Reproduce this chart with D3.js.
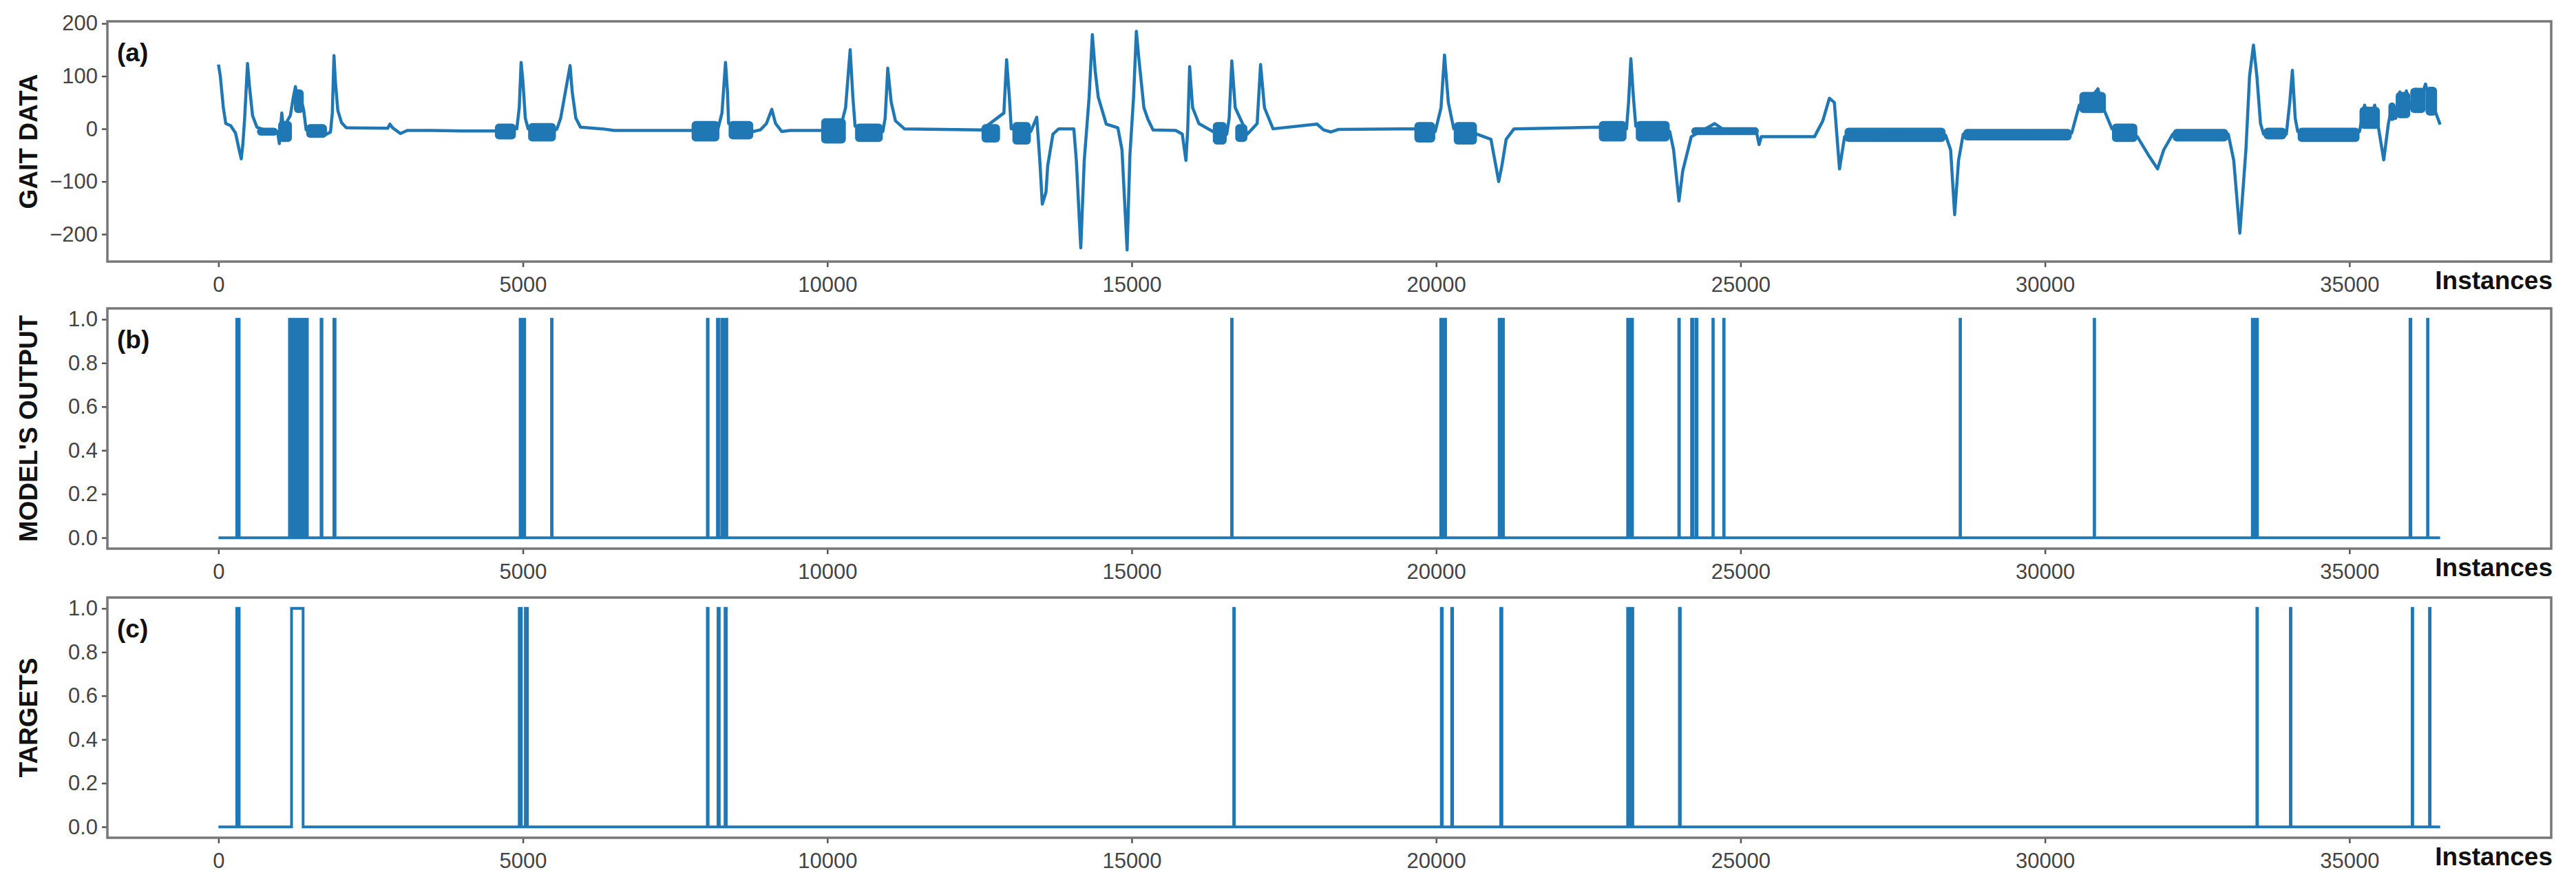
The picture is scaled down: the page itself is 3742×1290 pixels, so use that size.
<!DOCTYPE html>
<html>
<head>
<meta charset="utf-8">
<script src="https://cdn.jsdelivr.net/npm/d3@7/dist/d3.min.js"></script>
<style>
body { margin: 0; background: #fff; }
svg { display: block; font-family: "Liberation Sans", Arial, sans-serif; }
</style>
</head>
<body>
<div id="chart"></div>
<script>
// ---- data ----
var nSamples = 36490;

// gait signal, traced centre line (instance, value)
var gaitX = [0, 30, 80, 120, 200, 280, 340, 374, 400, 430, 477, 510, 560, 632, 800, 970, 1000, 1040, 1080, 1130, 1180, 1230, 1264, 1300, 1350, 1400, 1440, 1600, 1780, 1840, 1870, 1897, 1920, 1960, 2020, 2098,
    2780, 2816, 2860, 2988, 3100, 3500, 4000, 4540, 4900, 4940, 4971, 5000, 5040, 5086, 5500, 5560, 5620, 5775, 5810, 5870, 5947,
    6300, 6500, 7000, 7771, 8200, 8270, 8328, 8360, 8379, 8784, 8900, 9000, 9088, 9150, 9250, 9392, 9899, 10200, 10300, 10375, 10420, 10456, 10912, 10950, 10993, 11050, 11120, 11266,
    12533, 12900, 12945, 12990, 13021, 13343, 13440, 13490, 13531, 13592, 13620, 13706, 13800, 14049, 14090, 14163, 14220, 14300, 14353, 14400, 14450, 14581, 14772, 14840, 14924, 14970, 15030, 15076, 15120, 15200, 15266,
    15350, 15723, 15830, 15890, 15920, 15951, 16000, 16103, 16332, 16560, 16600, 16644, 16700, 16900, 17060, 17116, 17180, 17321, 18044, 18150, 18272, 18400,
    19642, 19985, 20080, 20137, 20200, 20289, 20670, 20900, 20980, 21027, 21080, 21150, 21279, 22672, 23127, 23160, 23198, 23240, 23279, 23836, 23900, 23988, 24050, 24190, 24575, 24700, 25000, 25250, 25304, 25340, 25506,
    26214, 26350, 26459, 26540, 26625, 26708, 28367, 28450, 28516, 28580, 28657, 30439, 30564, 30700, 30870, 30937, 31100, 31517, 31700, 31849, 31950, 32098, 33010, 33100, 33200, 33300, 33360, 33424, 33480, 33540, 33590,
    33964, 34020, 34063, 34110, 34150, 35166, 35249, 35330, 35415, 35480, 35564, 35640, 35705, 35760, 35829, 35880, 35935, 36000, 36090, 36150, 36250, 36330, 36420, 36490];
var gaitY = [122, 100, 40, 10, 6, -8, -40, -57, -30, 20, 124, 80, 25, 3, -4, -5, -28, 30, -15, 15, 25, 60, 80, 55, 60, 35, -2, -5, -10, -6, 30, 139, 90, 35, 12, 2,
    1, 9, 2, -9, -3, -3, -4, -4, 0, 40, 126, 90, 20, 0, -5, 0, 20, 120, 70, 20, 3,
    0, -3, -3, -3, -2, 30, 126, 70, 10, -5, -2, 10, 37, 10, -5, -3, -3, -5, 40, 150, 60, 5, -5, 20, 115, 50, 15, 0,
    -2, 30, 131, 60, 0, -5, 22, -60, -143, -120, -70, -10, 0, 0, -60, -226, -60, 60, 179, 110, 60, 9, 2, -40, -230, -50, 60, 185, 130, 40, 18,
    -2, -3, -10, -60, 0, 118, 40, 10, -5, -10, 20, 129, 40, -10, 10, 122, 40, 0, 9, -2, -6, -1,
    0, -5, 40, 140, 50, 0, -10, -20, -70, -100, -70, -20, 0, 3, 0, 50, 133, 60, 5, -5, -40, -137, -80, -15, 10, 0, -5, 0, -30, -15, -15,
    -15, 15, 58, 50, -76, -15, -12, -40, -163, -60, -10, -8, 45, 50, 76, 45, 0, -15, -50, -76, -40, -10, -10, -60, -198, -40, 100, 159, 100, 10, -10,
    -10, 50, 111, 20, -5, -5, 45, 10, 45, 0, -59, 10, 45, 20, 70, 30, 72, 40, 75, 50, 85, 45, 30, 8];

// stretches where the gait trace is a dense noisy band
var noiseStart = [632, 980, 1240, 1440, 4540, 5086, 7771, 8379, 9899, 10456, 12533, 13040, 16332, 16700, 19642, 20289, 22672, 23279, 24190, 26708, 28657, 30564, 31100, 32098, 33590, 34150, 35166, 35640, 35760, 36000, 36250];
var noiseEnd = [977, 1207, 1400, 1782, 4885, 5542, 8227, 8784, 10304, 10912, 12837, 13343, 16560, 16900, 19985, 20670, 23127, 23836, 25300, 28367, 30439, 31000, 31517, 33010, 33964, 35166, 35500, 35760, 36000, 36250, 36440];
var noiseLow = [-13, -25, 30, -17, -20, -24, -24, -20, -28, -25, -26, -30, -30, -25, -26, -30, -24, -24, -12, -25, -22, 30, -25, -24, -20, -25, 0, 15, 20, 30, 25];
var noiseHigh = [2, 15, 75, 9, 10, 11, 15, 15, 20, 10, 9, 13, 13, 9, 13, 13, 15, 15, 3, 2, 0, 70, 10, 0, 2, 2, 42, 50, 70, 78, 80];

// model output: intervals where the output is 1
var modelStart = [300, 1166, 1205, 1240, 1275, 1315, 1350, 1390, 1425, 1685, 1895, 4955, 5010, 5470, 8030, 8195, 8265, 8330, 16640, 20075, 20135, 21035, 21085, 23145, 23205, 23985, 24195, 24265, 24545, 24722, 28605, 30808, 33405, 33470, 35995, 36283];
var modelEnd = [340, 1190, 1225, 1262, 1300, 1335, 1372, 1410, 1460, 1700, 1915, 4985, 5030, 5480, 8042, 8215, 8285, 8350, 16650, 20095, 20155, 21055, 21105, 23165, 23225, 23995, 24215, 24285, 24552, 24730, 28612, 30815, 33425, 33490, 36010, 36290];

// targets: intervals where the target is 1
var targetStart = [300, 1200, 4940, 5040, 8030, 8205, 8320, 16675, 20085, 20255, 21060, 23145, 23205, 23995, 33480, 34030, 36030, 36315];
var targetEnd = [340, 1390, 4975, 5075, 8042, 8225, 8340, 16685, 20100, 20270, 21080, 23170, 23230, 24010, 33490, 34040, 36040, 36325];

var xTicks = [0, 5000, 10000, 15000, 20000, 25000, 30000, 35000];
var gaitTicks = [200, 100, 0, -100, -200];
var binTicks = [0, 0.2, 0.4, 0.6, 0.8, 1.0];
var panelTags = ["(a)", "(b)", "(c)"];
var yTitles = ["GAIT DATA", "MODEL'S OUTPUT", "TARGETS"];

// ---- layout ----
var W = 3742, H = 1290;
var left = 156, right = 3706, panelH = 349;
var tops = [31, 448, 868];
var lineColor = "#1f77b4";

var svg = d3.select("#chart").append("svg")
    .attr("width", W)
    .attr("height", H);

var x = d3.scaleLinear()
    .domain([-0.05 * nSamples, 1.05 * nSamples])
    .range([left, right]);

function stepPoints(starts, ends){
    var pts = [[0, 0]];
    for(var i = 0; i < starts.length; i++){
        pts.push([starts[i], 0], [starts[i], 1], [ends[i], 1], [ends[i], 0]);
    }
    pts.push([nSamples, 0]);
    return pts;
}

var gaitPts = gaitX.map(function(d, i){ return [d, gaitY[i]]; });
var noise = noiseStart.map(function(d, i){
    return {s: d, e: noiseEnd[i], lo: noiseLow[i], hi: noiseHigh[i]};
});

var panels = [
    {domain: [-252, 204], ticks: gaitTicks, fmt: function(d){ return d < 0 ? "\u2212" + Math.abs(d) : d; }},
    {domain: [-0.05, 1.05], ticks: binTicks, fmt: d3.format(".1f"), pts: stepPoints(modelStart, modelEnd)},
    {domain: [-0.05, 1.05], ticks: binTicks, fmt: d3.format(".1f"), pts: stepPoints(targetStart, targetEnd)}
];

panels.forEach(function(p, k){
    var top = tops[k], bottom = top + panelH;
    var y = d3.scaleLinear().domain(p.domain).range([bottom, top]);
    var g = svg.append("g");

    var clipId = "clip" + k;
    g.append("clipPath").attr("id", clipId)
        .append("rect")
        .attr("x", left).attr("y", top)
        .attr("width", right - left).attr("height", panelH);

    var plot = g.append("g").attr("clip-path", "url(#" + clipId + ")");
    var line = d3.line()
        .x(function(d){ return x(d[0]); })
        .y(function(d){ return y(d[1]); });

    if(k === 0){
        plot.selectAll("rect.noise")
            .data(noise)
            .enter().append("rect")
            .attr("class", "noise")
            .attr("x", function(d){ return x(d.s); })
            .attr("width", function(d){ return x(d.e) - x(d.s); })
            .attr("y", function(d){ return y(d.hi); })
            .attr("height", function(d){ return y(d.lo) - y(d.hi); })
            .attr("rx", 6)
            .attr("fill", lineColor);
        plot.append("path")
            .datum(gaitPts)
            .attr("d", line)
            .attr("fill", "none")
            .attr("stroke", lineColor)
            .attr("stroke-width", 4.5)
            .attr("stroke-linejoin", "round");
    } else {
        plot.append("path")
            .datum(p.pts)
            .attr("d", line)
            .attr("fill", "none")
            .attr("stroke", lineColor)
            .attr("stroke-width", 4);
    }

    // axes
    var xAxis = g.append("g")
        .attr("transform", "translate(0," + bottom + ")")
        .call(d3.axisBottom(x).tickValues(xTicks).tickFormat(d3.format("d")).tickSize(8).tickPadding(14));
    var yAxis = g.append("g")
        .attr("transform", "translate(" + left + ",0)")
        .call(d3.axisLeft(y).tickValues(p.ticks).tickFormat(p.fmt).tickSize(8).tickPadding(6));
    [xAxis, yAxis].forEach(function(a){
        a.select(".domain").remove();
        a.selectAll(".tick line").attr("stroke", "#555").attr("stroke-width", 2.5);
        a.selectAll(".tick text")
            .attr("fill", "#444")
            .style("font-size", "31px")
            .style("font-family", "'Liberation Sans', Arial, sans-serif");
    });

    // frame
    g.append("rect")
        .attr("x", left).attr("y", top)
        .attr("width", right - left).attr("height", panelH)
        .attr("fill", "none")
        .attr("stroke", "#777")
        .attr("stroke-width", 3.5);

    g.append("text")
        .attr("x", 170)
        .attr("y", top + 58)
        .style("font-size", "37px")
        .style("font-weight", "bold")
        .attr("fill", "#111")
        .text(panelTags[k]);

    g.append("text")
        .attr("transform", "translate(54," + (top + panelH / 2) + ") rotate(-90)")
        .attr("text-anchor", "middle")
        .style("font-size", "37px")
        .style("font-weight", "bold")
        .attr("fill", "#111")
        .text(yTitles[k]);

    g.append("text")
        .attr("x", 3708)
        .attr("y", bottom + 40)
        .attr("text-anchor", "end")
        .style("font-size", "37px")
        .style("font-weight", "bold")
        .attr("fill", "#111")
        .text("Instances");
});
</script>
</body>
</html>
